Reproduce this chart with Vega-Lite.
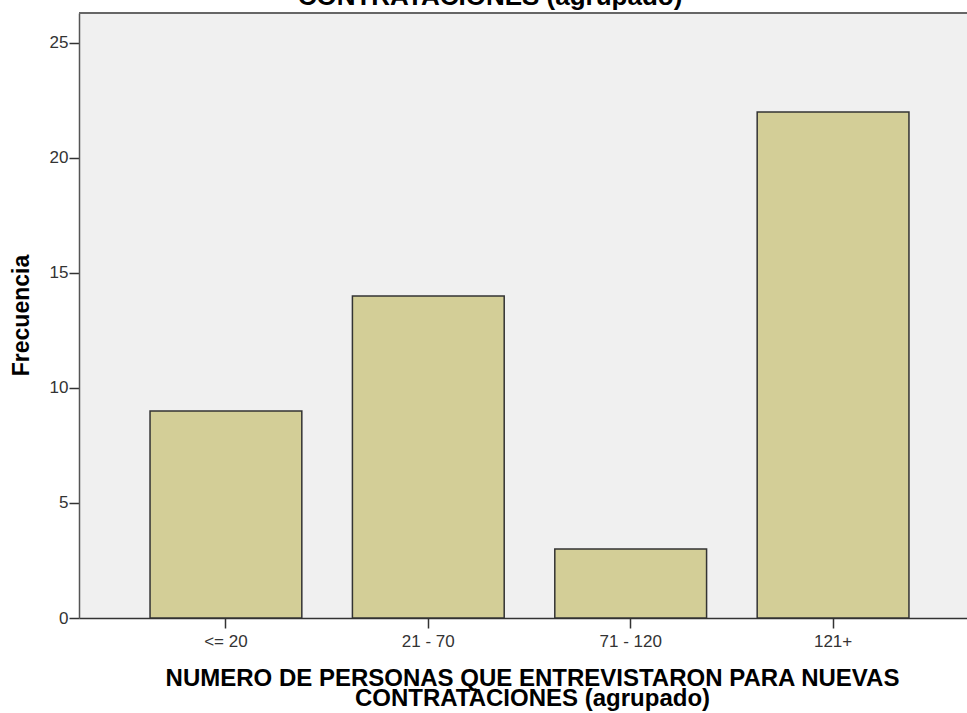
{
  "$schema": "https://vega.github.io/schema/vega-lite/v6.json",
  "width": 888,
  "height": 605,
  "autosize": {"type": "none"},
  "padding": {"left": 79, "top": 13, "right": 0, "bottom": 95},
  "background": "white",
  "title": {
    "text": ["NUMERO DE PERSONAS QUE ENTREVISTARON PARA NUEVAS", "CONTRATACIONES (agrupado)"],
    "font": "Liberation Sans",
    "fontSize": 26,
    "fontWeight": "bold",
    "color": "#000000",
    "anchor": "middle",
    "offset": 2,
    "lineHeight": 22,
    "dx": -33
  },
  "config": {
    "view": {"stroke": null, "fill": "#F0F0F0"},
    "axis": {"grid": false}
  },
  "data": {
    "values": [
      {"grupo": "<= 20", "frecuencia": 9},
      {"grupo": "21 - 70", "frecuencia": 14},
      {"grupo": "71 - 120", "frecuencia": 3},
      {"grupo": "121+", "frecuencia": 22}
    ]
  },
  "layer": [
    {
      "mark": {"type": "bar", "fill": "#D3CE97", "stroke": "#333333", "strokeWidth": 1.5},
      "encoding": {
        "x": {
          "field": "grupo",
          "type": "nominal",
          "sort": null,
          "scale": {"range": [0, 901], "paddingInner": 0.25, "paddingOuter": 0.351},
          "axis": {
            "title": ["NUMERO DE PERSONAS QUE ENTREVISTARON PARA NUEVAS", "CONTRATACIONES (agrupado)"],
            "titleFont": "Liberation Sans",
            "titleFontSize": 24,
            "titleFontWeight": "bold",
            "titleColor": "#000000",
            "titleX": 453,
            "titleY": 67,
            "titleAlign": "center",
            "titleBaseline": "alphabetic",
            "titleLineHeight": 20,
            "labelAngle": 0,
            "labelFont": "Liberation Sans",
            "labelFontSize": 17,
            "labelColor": "#333333",
            "labelPadding": 5,
            "tickSize": 10,
            "tickColor": "#333333",
            "tickWidth": 1.5,
            "domainColor": "#333333",
            "domainWidth": 1.5
          }
        },
        "y": {
          "field": "frecuencia",
          "type": "quantitative",
          "scale": {"domain": [0, 26.3], "nice": false},
          "axis": {
            "values": [0, 5, 10, 15, 20, 25],
            "title": "Frecuencia",
            "titleFont": "Liberation Sans",
            "titleFontSize": 23,
            "titleFontWeight": "bold",
            "titleColor": "#000000",
            "titleX": -58,
            "titleY": 302,
            "titleAlign": "center",
            "titleBaseline": "middle",
            "labelFont": "Liberation Sans",
            "labelFontSize": 17,
            "labelColor": "#333333",
            "labelPadding": 1,
            "tickSize": 10,
            "tickColor": "#333333",
            "tickWidth": 1.5,
            "domainColor": "#555555",
            "domainWidth": 1.5
          }
        }
      }
    },
    {
      "mark": {"type": "rule", "stroke": "#666666", "strokeWidth": 1.5},
      "encoding": {"y": {"datum": 26.3, "type": "quantitative"}}
    }
  ]
}
